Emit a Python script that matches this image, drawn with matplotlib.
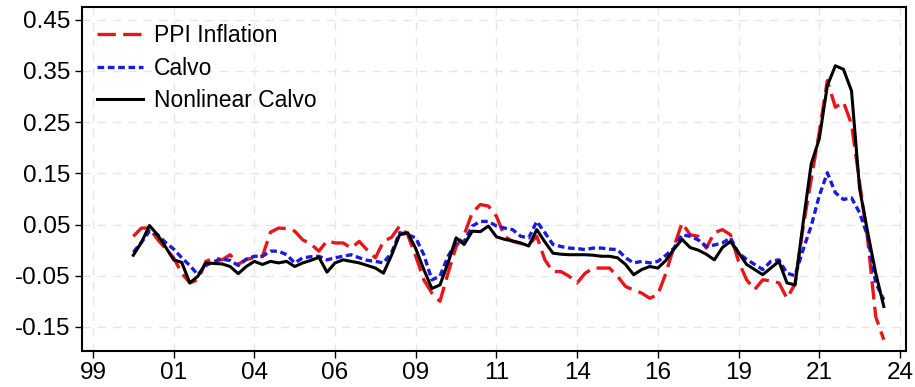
import numpy as np
import matplotlib
matplotlib.use("Agg")
import matplotlib.pyplot as plt

plt.rcParams['font.family'] = ['Liberation Sans', 'DejaVu Sans']

# quarterly observations, 2000Q2 - 2023Q3
dates = np.arange(2000.25, 2023.75, 0.25)

ppi = [0.027, 0.043, 0.043, 0.021, 0.003, -0.015, -0.045, -0.064, -0.058, -0.022,
       -0.015, -0.019, -0.009, -0.028, -0.018, -0.015, -0.012, 0.035, 0.043, 0.042,
       0.037, 0.020, 0.012, -0.002, 0.018, 0.014, 0.014, 0.004, 0.017, 0.000,
       -0.015, 0.017, 0.025, 0.047, 0.030, -0.012, -0.058, -0.084, -0.100, -0.045,
       0.007, 0.030, 0.073, 0.089, 0.086, 0.066, 0.027, 0.017, 0.013, 0.011,
       0.027, -0.019, -0.042, -0.042, -0.051, -0.064, -0.045, -0.035, -0.035, -0.035,
       -0.051, -0.071, -0.078, -0.084, -0.094, -0.087, -0.045, 0.007, 0.053, 0.030,
       0.027, 0.004, 0.034, 0.040, 0.030, -0.022, -0.058, -0.077, -0.058, -0.060,
       -0.064, -0.094, -0.066, 0.045, 0.138, 0.230, 0.331, 0.279, 0.289, 0.246,
       0.132, 0.021, -0.130, -0.175]

calvo = [-0.004, 0.015, 0.037, 0.030, 0.015, 0.002, -0.015, -0.030, -0.048, -0.030,
         -0.022, -0.018, -0.020, -0.030, -0.018, -0.012, -0.012, -0.002, -0.002, -0.009,
         -0.025, -0.015, -0.013, -0.012, -0.019, -0.015, -0.012, -0.009, -0.015, -0.020,
         -0.022, -0.025, -0.005, 0.034, 0.030, 0.024, -0.009, -0.058, -0.051, -0.012,
         0.014, 0.017, 0.047, 0.056, 0.056, 0.047, 0.043, 0.040, 0.027, 0.024,
         0.056, 0.034, 0.011, 0.007, 0.004, 0.003, 0.001, 0.004, 0.004, 0.002,
         0.001, -0.015, -0.025, -0.022, -0.025, -0.022, -0.010, 0.004, 0.030, 0.027,
         0.020, 0.007, 0.010, 0.014, 0.024, -0.006, -0.018, -0.028, -0.038, -0.022,
         -0.019, -0.045, -0.050, 0.001, 0.047, 0.106, 0.151, 0.112, 0.099, 0.102,
         0.073, 0.027, -0.064, -0.097]

nl_calvo = [-0.010, 0.015, 0.048, 0.030, 0.006, -0.019, -0.024, -0.064, -0.051, -0.025,
            -0.026, -0.027, -0.032, -0.046, -0.032, -0.022, -0.028, -0.022, -0.025, -0.022,
            -0.032, -0.025, -0.020, -0.014, -0.043, -0.025, -0.019, -0.022, -0.025, -0.030,
            -0.035, -0.045, -0.010, 0.030, 0.034, 0.003, -0.038, -0.075, -0.068, -0.025,
            0.024, 0.011, 0.037, 0.036, 0.047, 0.026, 0.021, 0.018, 0.014, 0.008,
            0.040, 0.016, -0.006, -0.008, -0.009, -0.009, -0.009, -0.010, -0.012, -0.012,
            -0.015, -0.028, -0.048, -0.038, -0.032, -0.035, -0.020, 0.002, 0.021, 0.005,
            0.000, -0.008, -0.019, 0.005, 0.017, -0.005, -0.028, -0.038, -0.048, -0.035,
            -0.022, -0.064, -0.068, 0.053, 0.168, 0.217, 0.321, 0.360, 0.353, 0.311,
            0.120, 0.035, -0.045, -0.110]

tick_years = [1999, 2001.5, 2004, 2006.5, 2009, 2011.5, 2014, 2016.5, 2019, 2021.5, 2024]
tick_labels = ['99', '01', '04', '06', '09', '11', '14', '16', '19', '21', '24']
y_ticks = [-0.15, -0.05, 0.05, 0.15, 0.25, 0.35, 0.45]

fig = plt.figure(figsize=(9.15, 3.87), dpi=100)
ax = fig.add_axes([0.0896, 0.093, 0.901, 0.888])

ax.plot(dates, ppi, color='#e8161b', lw=2.4, dashes=(5.5, 2.2), label='PPI Inflation')
ax.plot(dates, calvo, color='#1a1ae0', lw=2.4, dashes=(2.0, 1.1), label='Calvo')
ax.plot(dates, nl_calvo, color='black', lw=2.2, label='Nonlinear Calvo')

ax.set_xlim(1998.66, 2024.2)
ax.set_ylim(-0.197, 0.474)
ax.set_xticks(tick_years)
ax.set_xticklabels(tick_labels)
ax.set_yticks(y_ticks)
ax.set_yticklabels(['%.2f' % v for v in y_ticks])
ax.tick_params(labelsize=17.5, length=5, width=1, direction='out', pad=3)

ax.grid(True, color='#e6e6e6', lw=1.0, ls=(0, (6, 5)))
ax.set_axisbelow(True)
for s in ax.spines.values():
    s.set_linewidth(1.5)
    s.set_color('black')

ax.legend(loc='upper left', frameon=False, fontsize=16.5, handlelength=2.0,
          handletextpad=0.5, labelspacing=0.4, borderaxespad=0.0,
          bbox_to_anchor=(0.007, 0.977))

fig.savefig('out.png', dpi=100)
